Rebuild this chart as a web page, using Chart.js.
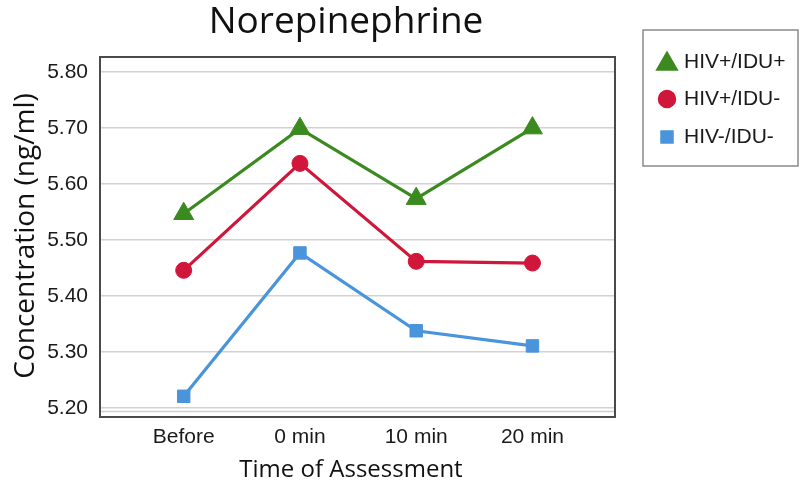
<!DOCTYPE html>
<html>
<head>
<meta charset="utf-8">
<script src="https://cdn.jsdelivr.net/npm/chart.js@4.4.1/dist/chart.umd.min.js"></script>
<style>
  html, body { margin: 0; padding: 0; background: #ffffff; }
  #wrap { width: 800px; height: 480px; position: relative; }
</style>
</head>
<body>
<div id="wrap"><canvas id="c" width="800" height="480"></canvas></div>
<script>
// ---- data ----
const chartTitle = 'Norepinephrine';
const xTitle = 'Time of Assessment';
const yTitle = 'Concentration (ng/ml)';
const categories = ['Before', '0 min', '10 min', '20 min'];
const seriesNames = ['HIV+/IDU+', 'HIV+/IDU-', 'HIV-/IDU-'];
const hivPosIduPos = [5.547, 5.699, 5.574, 5.700];
const hivPosIduNeg = [5.446, 5.637, 5.462, 5.459];
const hivNegIduNeg = [5.221, 5.477, 5.338, 5.311];
const yTicks = [5.20, 5.30, 5.40, 5.50, 5.60, 5.70, 5.80];

const colors = ['#3b8a1f', '#d0163a', '#4a94dc'];
const styles = ['triangle', 'circle', 'rect'];
const radii = [11.5, 8, 8.8];
const seriesValues = [hivPosIduPos, hivPosIduNeg, hivNegIduNeg];

const datasets = seriesValues.map((vals, k) => ({
  label: seriesNames[k],
  data: vals.map((v, i) => ({ x: i, y: v })),
  borderColor: colors[k],
  backgroundColor: colors[k],
  pointBackgroundColor: colors[k],
  pointBorderColor: colors[k],
  pointStyle: styles[k],
  pointRadius: radii[k],
  pointBorderWidth: 1,
  borderWidth: 3.2,
  tension: 0
}));

const tickFont = '"Liberation Sans", Arial, sans-serif';

const frameAndText = {
  id: 'frameAndText',
  beforeDatasetsDraw(chart) {
    const { ctx, chartArea: a } = chart;
    ctx.save();
    ctx.strokeStyle = '#cfcfcf';
    ctx.lineWidth = 1.5;
    ctx.beginPath();
    ctx.moveTo(a.left, a.bottom - 5.5);
    ctx.lineTo(a.right, a.bottom - 5.5);
    ctx.stroke();
    ctx.strokeStyle = '#4a4a4a';
    ctx.lineWidth = 2;
    ctx.strokeRect(a.left, a.top, a.right - a.left, a.bottom - a.top);
    ctx.restore();
  },
  afterDraw(chart) {
    const { ctx, chartArea: a } = chart;
    ctx.save();
    ctx.fillStyle = '#111';
    ctx.textAlign = 'center';
    ctx.textBaseline = 'alphabetic';
    ctx.font = '37px "Open Sans"';
    ctx.fillText(chartTitle, 346, 33);
    ctx.font = '24px "Open Sans"';
    ctx.fillText(xTitle, 351, 477);
    ctx.translate(34, 236);
    ctx.rotate(-Math.PI / 2);
    ctx.font = '28px "Open Sans"';
    ctx.fillText(yTitle, 0, 0);
    ctx.restore();

    // legend
    ctx.save();
    ctx.strokeStyle = '#8a8a8a';
    ctx.lineWidth = 1.5;
    ctx.strokeRect(643, 30, 155, 136);
    const legY = [62, 99, 137];
    const legR = [12, 8.5, 8.5];
    chart.data.datasets.forEach((ds, k) => {
      ctx.fillStyle = ds.backgroundColor;
      ctx.strokeStyle = ds.borderColor;
      Chart.helpers.drawPoint(ctx, {
        pointStyle: ds.pointStyle, radius: legR[k], borderWidth: 1, rotation: 0
      }, 667, legY[k] + (k === 0 ? 2 : 0));
      ctx.fillStyle = '#1a1a1a';
      ctx.font = '21px ' + tickFont;
      ctx.textAlign = 'left';
      ctx.textBaseline = 'middle';
      ctx.fillText(ds.label, 684, legY[k]);
    });
    ctx.restore();
  }
};

new Chart(document.getElementById('c'), {
  type: 'line',
  data: { datasets },
  options: {
    responsive: false,
    animation: false,
    devicePixelRatio: 1,
    layout: { padding: { left: 0, right: 185, top: 57, bottom: 0 } },
    plugins: { legend: { display: false }, title: { display: false }, tooltip: { enabled: false } },
    scales: {
      x: {
        type: 'linear',
        min: -0.72,
        max: 3.71,
        afterBuildTicks: s => { s.ticks = categories.map((_, i) => ({ value: i })); },
        afterFit: s => { s.height = 63; },
        grid: { display: false, drawTicks: false },
        border: { display: false },
        ticks: {
          padding: 8,
          autoSkip: false,
          maxRotation: 0,
          color: '#1a1a1a',
          font: { family: tickFont, size: 21 },
          callback: v => categories[v] ?? ''
        }
      },
      y: {
        min: 5.184,
        max: 5.827,
        afterBuildTicks: s => { s.ticks = yTicks.map(v => ({ value: v })); },
        afterFit: s => { s.width = 100; },
        grid: { color: '#d2d2d2', lineWidth: 1.5, drawTicks: false },
        border: { display: false },
        ticks: {
          padding: 12,
          color: '#1a1a1a',
          font: { family: tickFont, size: 21 },
          callback: v => Number(v).toFixed(2)
        }
      }
    }
  },
  plugins: [frameAndText]
});
</script>
</body>
</html>
